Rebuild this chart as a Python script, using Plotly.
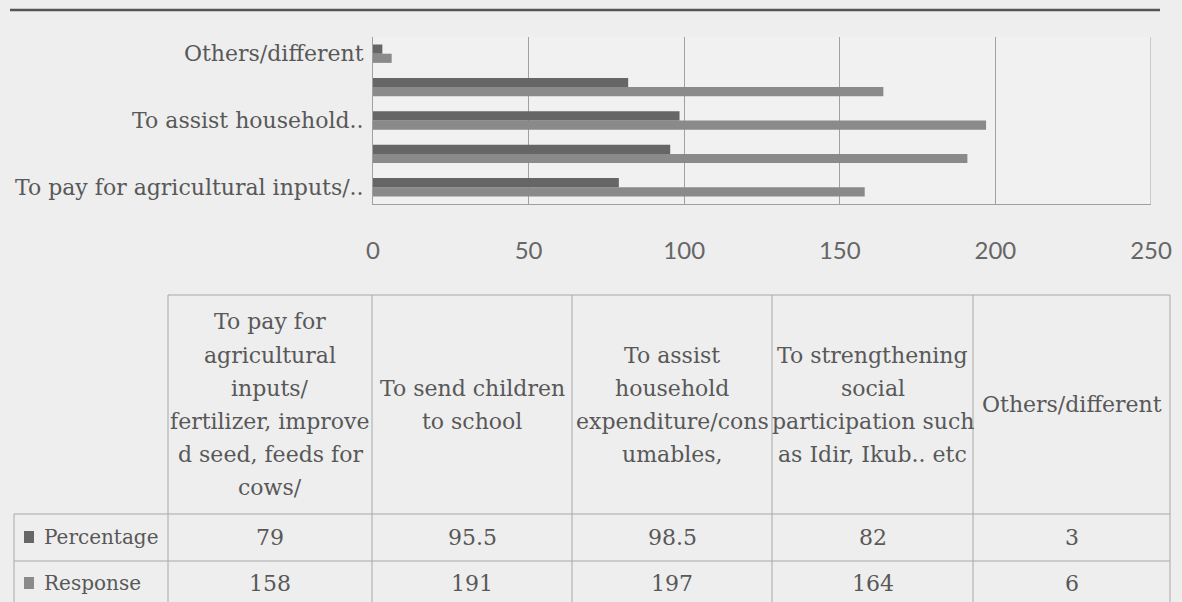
import plotly.graph_objects as go

W, H = 1182, 602

# ---- data -------------------------------------------------------------
categories = [
    "To pay for agricultural inputs/ fertilizer, improved seed, feeds for cows/",
    "To send children to school",
    "To assist household expenditure/consumables,",
    "To strengthening social participation such as Idir, Ikub.. etc",
    "Others/different",
]
percentage = [79, 95.5, 98.5, 82, 3]
response = [158, 191, 197, 164, 6]

# shortened category labels shown on the value axis (every other category)
axis_labels = ["To pay for agricultural inputs/..", "", "To assist household..", "", "Others/different"]

# wrapped column headings of the data table
header_lines = [
    ["To pay for", "agricultural", "inputs/", "fertilizer, improve", "d seed, feeds for", "cows/"],
    ["To send children", "to school"],
    ["To assist", "household", "expenditure/cons", "umables,"],
    ["To strengthening", "social", "participation such", "as Idir, Ikub.. etc"],
    ["Others/different"],
]
series_names = ["Percentage", "Response"]
x_ticks = [0, 50, 100, 150, 200, 250]

# ---- styling ----------------------------------------------------------
SERIF = "DejaVu Serif"
TEXT = "#585858"
GRID = "#a0a0a0"
COL_PCT = "#666666"
COL_RESP = "#8a8a8a"


def px(x):
    return x / W


def py(y):
    return 1 - y / H


fig = go.Figure()
# Response first so that it sits below Percentage inside each group
fig.add_trace(go.Bar(y=categories, x=response, orientation="h", name=series_names[1],
                     marker=dict(color=COL_RESP, line=dict(width=0))))
fig.add_trace(go.Bar(y=categories, x=percentage, orientation="h", name=series_names[0],
                     marker=dict(color=COL_PCT, line=dict(width=0))))

tick_idx = [i for i, t in enumerate(axis_labels) if t]

fig.update_layout(
    width=W, height=H,
    margin=dict(l=0, r=0, t=0, b=0, pad=0),
    paper_bgcolor="#eeeeee",
    plot_bgcolor="#f1f1f1",
    showlegend=False,
    barmode="group",
    bargap=0.45,
    bargroupgap=0,
    xaxis=dict(
        domain=[px(373), px(1151)],
        range=[0, 250],
        tickvals=x_ticks,
        automargin=False,
        showgrid=True, gridcolor=GRID, gridwidth=1,
        zeroline=False,
        showline=True, linecolor=GRID, linewidth=1,
        ticks="",
        ticklabelstandoff=25,
        tickfont=dict(family="Lato", size=24, color="#666666"),
        fixedrange=True,
    ),
    yaxis=dict(
        domain=[py(204), py(37)],
        type="category",
        categoryorder="array", categoryarray=categories,
        range=[-0.5, len(categories) - 0.5],
        tickvals=[categories[i] for i in tick_idx],
        ticktext=[axis_labels[i] for i in tick_idx],
        automargin=False,
        showgrid=False, zeroline=False,
        showline=True, linecolor=GRID, linewidth=1,
        ticks="",
        ticklabelstandoff=4,
        tickfont=dict(family=SERIF, size=22, color=TEXT),
        fixedrange=True,
    ),
)

shapes = []
annotations = []

# rule across the top of the figure
shapes.append(dict(type="line", xref="paper", yref="paper",
                   x0=px(10), x1=px(1160), y0=py(10), y1=py(10),
                   line=dict(color="#555555", width=2.5)))
# right border of the plot area
shapes.append(dict(type="line", xref="x", yref="paper",
                   x0=x_ticks[-1], x1=x_ticks[-1], y0=py(204), y1=py(37),
                   line=dict(color=GRID, width=1)))

# ---- data table -------------------------------------------------------
col_edges = [168, 372, 572, 772, 973, 1170]
left_edge = 14
head_top, head_bot = 295, 514
row_lines = [514, 561, 608]
row_centers = [537, 583]
line_col = "#a8a8a8"

# horizontal rules
shapes.append(dict(type="line", xref="paper", yref="paper",
                   x0=px(col_edges[0]), x1=px(col_edges[-1]), y0=py(head_top), y1=py(head_top),
                   line=dict(color=line_col, width=1)))
for yl in row_lines:
    shapes.append(dict(type="line", xref="paper", yref="paper",
                       x0=px(left_edge), x1=px(col_edges[-1]), y0=py(yl), y1=py(yl),
                       line=dict(color=line_col, width=1)))
# vertical rules
for xe in col_edges:
    shapes.append(dict(type="line", xref="paper", yref="paper",
                       x0=px(xe), x1=px(xe), y0=py(head_top), y1=py(row_lines[-1]),
                       line=dict(color=line_col, width=1)))
shapes.append(dict(type="line", xref="paper", yref="paper",
                   x0=px(left_edge), x1=px(left_edge), y0=py(head_bot), y1=py(row_lines[-1]),
                   line=dict(color=line_col, width=1)))

# column headings, one annotation per wrapped line
head_mid = (head_top + head_bot) / 2
line_step = 33
for c, lines in enumerate(header_lines):
    xc = (col_edges[c] + col_edges[c + 1]) / 2
    n = len(lines)
    for i, ln in enumerate(lines):
        yc = head_mid + (i - (n - 1) / 2) * line_step
        annotations.append(dict(xref="paper", yref="paper", x=px(xc), y=py(yc),
                                text=ln, showarrow=False, xanchor="center", yanchor="middle",
                                font=dict(family=SERIF, size=22, color=TEXT)))

# series rows: legend key, name and values
row_values = [percentage, response]
row_colors = [COL_PCT, COL_RESP]
for r, (name, vals, colr) in enumerate(zip(series_names, row_values, row_colors)):
    yc = row_centers[r]
    shapes.append(dict(type="rect", xref="paper", yref="paper",
                       x0=px(24), x1=px(34), y0=py(yc - 6), y1=py(yc + 6),
                       fillcolor=colr, line=dict(width=0)))
    annotations.append(dict(xref="paper", yref="paper", x=px(42), y=py(yc),
                            text=name, showarrow=False, xanchor="left", yanchor="middle",
                            font=dict(family=SERIF, size=20, color=TEXT)))
    for c, v in enumerate(vals):
        xc = (col_edges[c] + col_edges[c + 1]) / 2
        annotations.append(dict(xref="paper", yref="paper", x=px(xc), y=py(yc),
                                text=f"{v:g}", showarrow=False, xanchor="center", yanchor="middle",
                                font=dict(family=SERIF, size=22, color=TEXT)))

fig.update_layout(shapes=shapes, annotations=annotations)
fig.write_html("out.html", config={"displayModeBar": False})
